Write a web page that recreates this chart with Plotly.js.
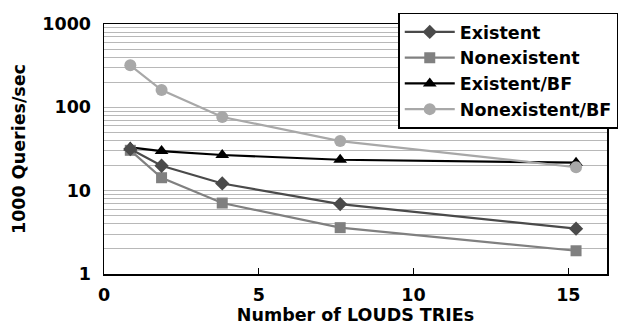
<!DOCTYPE html>
<html>
<head>
<meta charset="utf-8">
<script src="https://cdn.plot.ly/plotly-3.0.1.min.js"></script>
<style>html,body{margin:0;padding:0;background:#fff;}#chart{width:624px;height:325px;}</style>
</head>
<body>
<div id="chart"></div>
<script>
const tries = [0.85, 1.86, 3.82, 7.63, 15.25];
const existent = [31.6, 19.9, 12.2, 6.9, 3.5];
const nonexistent = [30.5, 14.3, 7.1, 3.6, 1.9];
const existentBF = [33, 29.9, 26.8, 23.5, 21.7];
const nonexistentBF = [319, 161, 76.6, 39.4, 19.1];
const seriesNames = ["Existent", "Nonexistent", "Existent/BF", "Nonexistent/BF"];
const yTickVals = [1, 10, 100, 1000];
const xTickVals = [0, 5, 10, 15];

const FONT = {family: "DejaVu Sans", size: 17.5, color: "#000", weight: "bold"};

const traces = [
  {x: tries, y: existentBF, name: seriesNames[2], legendrank: 3, mode: "lines+markers",
   line: {color: "#000000", width: 2.2}, marker: {symbol: "triangle-up", size: 12, color: "#000000"}},
  {x: tries, y: nonexistent, name: seriesNames[1], legendrank: 2, mode: "lines+markers",
   line: {color: "#808080", width: 2.2}, marker: {symbol: "square", size: 11, color: "#808080"}},
  {x: tries, y: existent, name: seriesNames[0], legendrank: 1, mode: "lines+markers",
   line: {color: "#4a4a4a", width: 2.2}, marker: {symbol: "diamond", size: 11, color: "#4a4a4a"}},
  {x: tries, y: nonexistentBF, name: seriesNames[3], legendrank: 4, mode: "lines+markers",
   line: {color: "#a8a8a8", width: 2.2}, marker: {symbol: "circle", size: 12, color: "#a8a8a8"}}
];

const layout = {
  width: 624, height: 325,
  margin: {l: 104, r: 17, t: 24, b: 51, autoexpand: false},
  paper_bgcolor: "#fff", plot_bgcolor: "#fff",
  font: FONT,
  showlegend: true,
  legend: {x: 0.585, y: 1.046, xanchor: "left", yanchor: "top",
           bgcolor: "#fff", bordercolor: "#000", borderwidth: 1.5,
           font: FONT, traceorder: "normal", itemwidth: 50},
  xaxis: {
    range: [0, 16.25], tickvals: xTickVals, ticktext: xTickVals.map(String),
    showgrid: false, zeroline: false,
    showline: true, linecolor: "#000", linewidth: 1.5, mirror: true,
    ticks: "inside", ticklen: 6, tickcolor: "#000", tickwidth: 1,
    tickfont: FONT, ticklabelstandoff: 4,
    title: {text: "Number of LOUDS TRIEs", font: FONT, standoff: 6}
  },
  yaxis: {
    type: "log", range: [0, 3], tickvals: yTickVals, ticktext: yTickVals.map(String),
    showgrid: true, gridcolor: "#b8b8b8", gridwidth: 1, zeroline: false,
    showline: true, linecolor: "#000", linewidth: 1.5, mirror: true,
    ticks: "", tickfont: FONT, ticklabelstandoff: 8,
    minor: {dtick: "D1", showgrid: true, gridcolor: "#b8b8b8", gridwidth: 1, ticks: ""},
    title: {text: "1000 Queries/sec", font: FONT, standoff: 12}
  }
};

Plotly.newPlot("chart", traces, layout, {displayModeBar: false, staticPlot: true});
</script>
</body>
</html>
